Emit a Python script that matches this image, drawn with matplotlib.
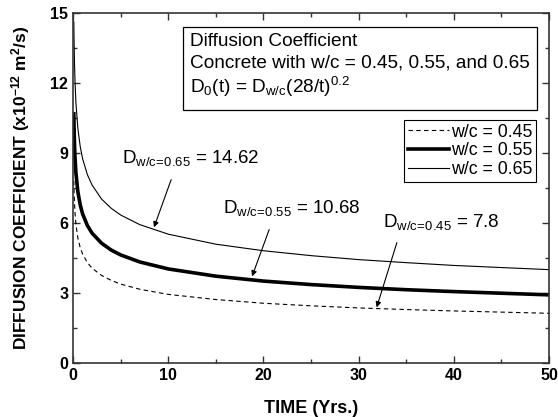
import matplotlib
matplotlib.use("Agg")
import matplotlib.pyplot as plt
from matplotlib.patches import Rectangle
from matplotlib.ticker import MultipleLocator

plt.rcParams['font.family'] = ['Liberation Sans', 'DejaVu Sans']
plt.rcParams['mathtext.fontset'] = 'custom'
plt.rcParams['mathtext.rm'] = 'Liberation Sans'
plt.rcParams['mathtext.it'] = 'Liberation Sans'
plt.rcParams['mathtext.bf'] = 'Liberation Sans:bold'

# time in years
time_yrs = [0.077, 0.1, 0.15, 0.2, 0.3, 0.5, 0.75, 1, 1.5, 2, 3, 4, 5, 7,
            10, 15, 20, 25, 30, 35, 40, 45, 50]
d_045 = [7.80, 7.39, 6.82, 6.44, 5.94, 5.36, 4.94, 4.67, 4.30, 4.06, 3.75, 3.54,
         3.38, 3.16, 2.94, 2.72, 2.56, 2.45, 2.36, 2.29, 2.23, 2.18, 2.13]
d_055 = [10.68, 10.12, 9.34, 8.82, 8.13, 7.34, 6.77, 6.39, 5.89, 5.56, 5.13, 4.84,
         4.63, 4.33, 4.03, 3.72, 3.51, 3.36, 3.24, 3.14, 3.06, 2.99, 2.92]
d_065 = [14.62, 13.86, 12.79, 12.07, 11.13, 10.05, 9.27, 8.75, 8.07, 7.62, 7.02, 6.63,
         6.34, 5.93, 5.52, 5.09, 4.81, 4.60, 4.43, 4.30, 4.18, 4.09, 4.00]
series_labels = ['w/c = 0.45', 'w/c = 0.55', 'w/c = 0.65']

fig = plt.figure(figsize=(5.58, 4.17), dpi=100)
ax = fig.add_axes([0.131, 0.1295, 0.853, 0.8395])

ax.plot(time_yrs, d_045, color='black', lw=0.8, ls=(0, (4, 3)), label=series_labels[0])
ax.plot(time_yrs, d_055, color='black', lw=2.6, label=series_labels[1])
ax.plot(time_yrs, d_065, color='black', lw=0.8, label=series_labels[2])

ax.set_xlim(0, 50)
ax.set_ylim(0, 15)
ax.xaxis.set_major_locator(MultipleLocator(10))
ax.xaxis.set_minor_locator(MultipleLocator(5))
ax.yaxis.set_major_locator(MultipleLocator(3))
ax.yaxis.set_minor_locator(MultipleLocator(1.5))
ax.tick_params(which='both', direction='in', top=True, right=True, width=1.0, color='#333333')
ax.tick_params(which='major', length=5, labelsize=11.5)
ax.tick_params(which='minor', length=3)
for lab in ax.get_xticklabels() + ax.get_yticklabels():
    lab.set_fontweight('bold')
for sp in ax.spines.values():
    sp.set_linewidth(1.2)
    sp.set_color('#333333')

ax.set_xlabel('TIME (Yrs.)', fontsize=13, fontweight='bold', labelpad=12)
ax.set_ylabel(r'DIFFUSION COEFFICIENT (x10$^{\mathregular{-12}}$ m$^{\mathregular{2}}$/s)',
              fontsize=12.5, fontweight='bold', labelpad=13)

# info box
ax.add_patch(Rectangle((0.231, 0.723), 0.744, 0.237, transform=ax.transAxes,
                       fill=False, ec='black', lw=0.9))
ax.text(0.246, 0.917, 'Diffusion Coefficient', transform=ax.transAxes,
        fontsize=13.7, va='center')
ax.text(0.246, 0.857, 'Concrete with w/c = 0.45, 0.55, and 0.65', transform=ax.transAxes,
        fontsize=13.7, va='center')
ax.text(0.246, 0.789, r'D$_{\mathregular{0}}$(t) = D$_{\mathregular{w/c}}$(28/t)$^{\mathregular{0.2}}$',
        transform=ax.transAxes, fontsize=13.7, va='center')

leg = ax.legend(loc='upper right', bbox_to_anchor=(0.973, 0.694), borderaxespad=0,
                fontsize=12.8, handlelength=2.3, handletextpad=0.15, labelspacing=0.1,
                borderpad=0.2, fancybox=False, framealpha=1)
leg.get_frame().set_edgecolor('black')
leg.get_frame().set_linewidth(0.8)

ap = dict(arrowstyle='-|>', color='black', lw=0.8, mutation_scale=8)
ax.annotate(r'D$_{\mathregular{w/c\!=\!0.65}}$ = 14.62', xy=(8.4, 5.7), xytext=(5.15, 8.8),
            fontsize=13.5, va='center', ha='left')
ax.annotate('', xy=(8.4, 5.7), xytext=(10.4, 7.97), arrowprops=ap)
ax.annotate(r'D$_{\mathregular{w/c\!=\!0.55}}$ = 10.68', xy=(18.7, 3.6), xytext=(15.75, 6.65),
            fontsize=13.5, va='center', ha='left')
ax.annotate('', xy=(18.7, 3.6), xytext=(20.7, 5.83), arrowprops=ap)
ax.annotate(r'D$_{\mathregular{w/c\!=\!0.45}}$ = 7.8', xy=(31.8, 2.27), xytext=(32.6, 6.05),
            fontsize=13.5, va='center', ha='left')
ax.annotate('', xy=(31.8, 2.27), xytext=(34.1, 5.27), arrowprops=ap)

fig.savefig('out.png', dpi=100)
